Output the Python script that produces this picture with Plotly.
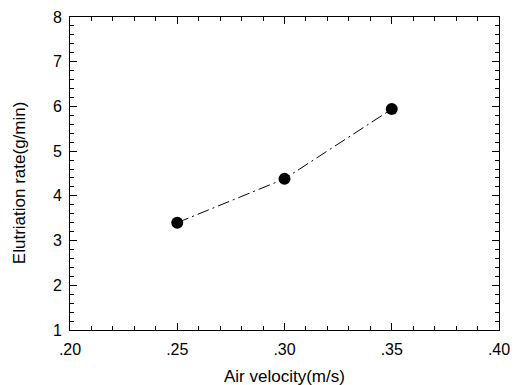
import plotly.graph_objects as go

air_velocity = [0.25, 0.30, 0.35]
elutriation_rate = [3.4, 4.38, 5.94]

x_tick_vals = [0.20, 0.25, 0.30, 0.35, 0.40]
x_tick_text = [".20", ".25", ".30", ".35", ".40"]
y_tick_vals = [1, 2, 3, 4, 5, 6, 7, 8]

x_title = "Air velocity(m/s)"
y_title = "Elutriation rate(g/min)"

FONT = "Liberation Sans, Arial, Helvetica, sans-serif"

fig = go.Figure()
fig.add_trace(go.Scatter(
    x=air_velocity, y=elutriation_rate, mode="lines+markers",
    line=dict(color="black", width=1, dash="12px,4px,2px,4px"),
    marker=dict(color="black", size=12),
    showlegend=False,
))

axis_common = dict(
    showline=True, linecolor="black", linewidth=1, mirror="ticks",
    ticks="inside", ticklen=7, tickcolor="black", tickwidth=1,
    showgrid=False, zeroline=False, automargin=False,
    tickfont=dict(family=FONT, size=16, color="black"),
)

fig.update_xaxes(
    range=[0.20, 0.40], tickvals=x_tick_vals, ticktext=x_tick_text,
    minor=dict(ticks="inside", ticklen=4, dtick=0.01, tickcolor="black", showgrid=False),
    ticklabelstandoff=5,
    **axis_common,
)
fig.update_yaxes(
    range=[1, 8], tickvals=y_tick_vals,
    minor=dict(ticks="inside", ticklen=4, dtick=0.2, tickcolor="black", showgrid=False),
    ticklabelstandoff=4,
    **axis_common,
)

fig.add_annotation(
    text=x_title, xref="paper", yref="paper", x=0.5, y=-0.148,
    xanchor="center", yanchor="middle", showarrow=False,
    font=dict(family=FONT, size=17, color="black"),
)
fig.add_annotation(
    text=y_title, xref="paper", yref="paper", x=-0.116, y=0.47,
    xanchor="center", yanchor="middle", textangle=-90, showarrow=False,
    font=dict(family=FONT, size=17, color="black"),
)

fig.update_layout(
    width=514, height=385,
    margin=dict(l=70, r=15, t=17, b=55),
    plot_bgcolor="white", paper_bgcolor="white",
)

fig.write_html(
    "out.html",
    config={"displayModeBar": False},
    post_script="document.body.style.margin='0';document.body.style.overflow='hidden';",
)
